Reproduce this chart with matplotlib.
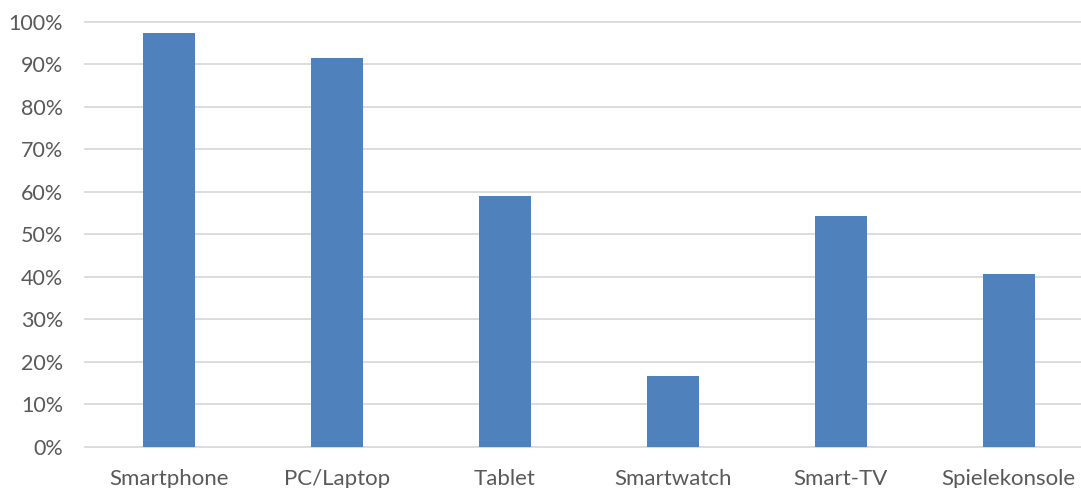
import matplotlib
matplotlib.use("Agg")
import matplotlib.pyplot as plt
from matplotlib.ticker import PercentFormatter

categories = ["Smartphone", "PC/Laptop", "Tablet", "Smartwatch", "Smart-TV", "Spielekonsole"]
values = [97.4, 91.5, 59.0, 16.6, 54.3, 40.7]
yticks = [0, 10, 20, 30, 40, 50, 60, 70, 80, 90, 100]

plt.rcParams['font.family'] = ['Lato', 'DejaVu Sans']

fig = plt.figure(figsize=(10.81, 4.88), dpi=100)
W, H = 1081, 488
ax = fig.add_axes([85.3 / W, 41.3 / H, 1007.4 / W, 424.7 / H])

x = list(range(len(categories)))
ax.bar(x, values, width=0.31, color="#4F81BD", zorder=3)

ax.set_xlim(-0.5, len(categories) - 0.5)
ax.set_ylim(0, 100)
ax.set_yticks(yticks)
ax.yaxis.set_major_formatter(PercentFormatter(decimals=0))
ax.set_xticks(x)
ax.set_xticklabels(categories)

for s in ax.spines.values():
    s.set_visible(False)
ax.grid(axis="y", color="#D9D9D9", linewidth=1.3, zorder=0)
ax.set_axisbelow(True)
ax.tick_params(axis="both", length=0, colors="#595959")
ax.tick_params(axis="y", pad=16, labelsize=15.5)
ax.tick_params(axis="x", pad=16, labelsize=16)
for line in ax.get_ygridlines():
    line.set_clip_on(False)

fig.savefig("out.png", dpi=100)
